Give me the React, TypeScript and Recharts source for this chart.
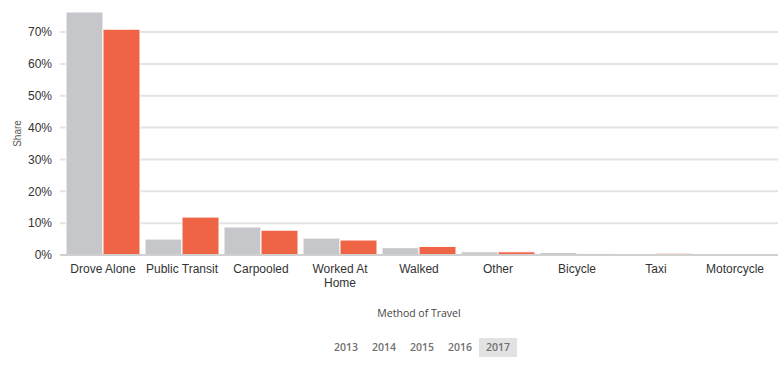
import { BarChart, Bar, XAxis, YAxis, CartesianGrid } from 'recharts';

const methods = [
  'Drove Alone',
  'Public Transit',
  'Carpooled',
  'Worked At Home',
  'Walked',
  'Other',
  'Bicycle',
  'Taxi',
  'Motorcycle',
];

// how each category label breaks onto lines under the axis
const methodLabelLines: Record<string, string[]> = {
  'Worked At Home': ['Worked At', 'Home'],
};

// share of commuters, %
const baseline = [76.3, 5.0, 8.8, 5.3, 2.3, 1.0, 0.8, 0.45, 0.05];
const selected = [70.9, 11.9, 7.8, 4.7, 2.7, 1.0, 0.5, 0.55, 0.05];

const yTicks = [0, 10, 20, 30, 40, 50, 60, 70];
const years = ['2013', '2014', '2015', '2016', '2017'];
const activeYear = '2017';

const data = methods.map((name, i) => ({ name, baseline: baseline[i], selected: selected[i] }));

const FONT = 'Liberation Sans, Arial, sans-serif';
const tickFont = { fontSize: 12, fill: '#333333', fontFamily: FONT };

function CategoryTick(props: any) {
  const { x, y, payload } = props;
  const lines = methodLabelLines[payload.value] || [payload.value];
  return (
    <text x={x} y={y} textAnchor="middle" fontSize={12} fill="#333333" fontFamily={FONT}>
      {lines.map((line, i) => (
        <tspan key={i} x={x} dy={i === 0 ? '0.71em' : 14}>
          {line}
        </tspan>
      ))}
    </text>
  );
}

function ShareLabel(props: any) {
  const vb = props.viewBox || { y: 0, height: 0 };
  const cy = vb.y + vb.height / 2;
  return (
    <text
      x={21}
      y={cy}
      transform={`rotate(-90 21 ${cy})`}
      textAnchor="middle"
      fontSize={10}
      fill="#555555"
      fontFamily={FONT}
    >
      Share
    </text>
  );
}

export default function App() {
  return (
    <div style={{ position: 'absolute', left: 0, top: 0, width: 784, height: 366, background: '#fff' }}>
      <BarChart
        width={784}
        height={300}
        data={data}
        margin={{ top: 12, right: 6, left: 0, bottom: 0 }}
        barCategoryGap={2.5}
        barGap={0}
      >
        <CartesianGrid vertical={false} horizontalValues={yTicks} stroke="#e3e3e3" strokeWidth={2} />
        <XAxis
          dataKey="name"
          interval={0}
          height={45}
          padding={{ left: 3.5, right: 3.5 }}
          tickLine={false}
          tickSize={0}
          tickMargin={9}
          stroke="#d0d0d0"
          strokeWidth={2}
          tick={<CategoryTick />}
        />
        <YAxis
          width={60}
          domain={[0, 76.3]}
          ticks={yTicks}
          tickFormatter={(v: number) => `${v}%`}
          axisLine={false}
          tickLine={false}
          tickSize={0}
          tickMargin={8}
          tick={tickFont}
          label={{ content: ShareLabel }}
        />
        <Bar dataKey="baseline" fill="#c6c7ca" stroke="#ffffff" strokeWidth={1} isAnimationActive={false} />
        <Bar dataKey="selected" fill="#f06446" stroke="#ffffff" strokeWidth={1} isAnimationActive={false} />
      </BarChart>
      <div
        style={{
          position: 'absolute',
          left: 319,
          width: 200,
          top: 306,
          textAlign: 'center',
          fontFamily: 'Open Sans, sans-serif',
          fontSize: 10.5,
          color: '#444444',
        }}
      >
        Method of Travel
      </div>
      <div
        style={{
          position: 'absolute',
          left: 327,
          top: 338,
          display: 'flex',
          fontFamily: 'Open Sans, sans-serif',
          fontSize: 10.5,
          fontWeight: 600,
          color: '#707070',
        }}
      >
        {years.map((y) => (
          <div
            key={y}
            style={{
              width: 38,
              height: 19,
              lineHeight: '19px',
              textAlign: 'center',
              background: y === activeYear ? '#e2e2e2' : 'transparent',
            }}
          >
            {y}
          </div>
        ))}
      </div>
    </div>
  );
}
